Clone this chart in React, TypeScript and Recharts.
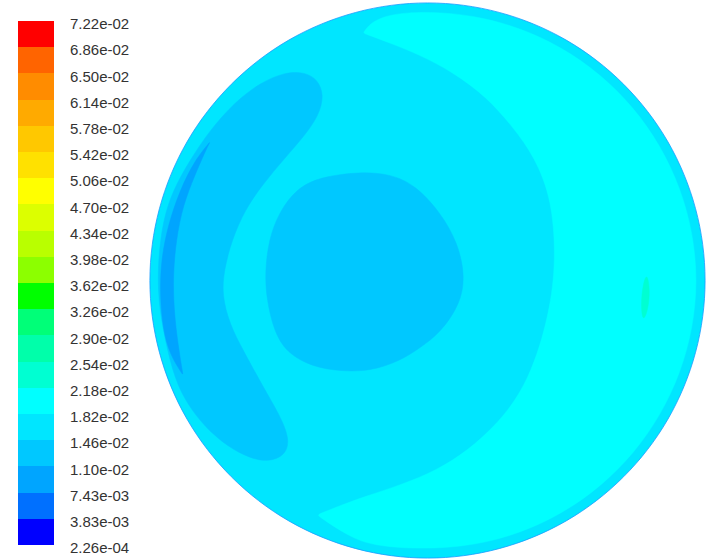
import React from "react"
import { ScatterChart, Scatter, XAxis, YAxis } from "recharts"

// contour levels, top of the colour bar first
const levels = [
  "7.22e-02", "6.86e-02", "6.50e-02", "6.14e-02", "5.78e-02", "5.42e-02", "5.06e-02",
  "4.70e-02", "4.34e-02", "3.98e-02", "3.62e-02", "3.26e-02", "2.90e-02", "2.54e-02",
  "2.18e-02", "1.82e-02", "1.46e-02", "1.10e-02", "7.43e-03", "3.83e-03", "2.26e-04",
]

const bandColors = [
  "#ff0000", "#ff6400", "#ff8c00", "#ffaa00", "#ffc800", "#ffe100", "#ffff00",
  "#dcff00", "#b9ff00", "#8cff00", "#00ff00", "#00ff78", "#00ffaa", "#00ffd2",
  "#00ffff", "#00e6ff", "#00c8ff", "#00a5ff", "#0070ff", "#0000ff",
]

// section outlines in units of the pipe radius (centre = 0,0), control points of closed splines
const wall = [
  [1.047, 0], [0.907, 0.523], [0.523, 0.907], [0, 1.047], [-0.523, 0.907], [-0.907, 0.523],
  [-1.047, 0], [-0.907, -0.523], [-0.523, -0.907], [0, -1.047], [0.523, -0.907], [0.907, -0.523],
]

const crescent = [
  [-0.232, 0.892], [-0.232, 0.892], [-0.171, 0.97], [0.171, 0.97], [0.493, 0.853],
  [0.755, 0.633], [0.926, 0.337], [0.988, 0], [0.926, -0.337], [0.755, -0.633],
  [0.493, -0.853], [0.171, -0.97], [-0.171, -0.965], [-0.281, -0.925],
  [-0.398, -0.845], [-0.398, -0.845], [-0.243, -0.782], [0.045, -0.694], [0.25, -0.528],
  [0.369, -0.359], [0.441, -0.117], [0.463, 0.074], [0.449, 0.29], [0.387, 0.445],
  [0.308, 0.553], [0.214, 0.661], [0.092, 0.751], [-0.027, 0.813], [-0.135, 0.856],
]

const leftLobe = [
  [-0.91, -0.359], [-0.946, -0.214], [-0.971, -0.07], [-0.971, 0.074], [-0.953, 0.218],
  [-0.917, 0.326], [-0.856, 0.434], [-0.784, 0.542], [-0.694, 0.643], [-0.604, 0.712],
  [-0.514, 0.751], [-0.441, 0.751], [-0.395, 0.723], [-0.373, 0.668], [-0.391, 0.596],
  [-0.441, 0.524], [-0.514, 0.441], [-0.596, 0.344], [-0.658, 0.254], [-0.705, 0.146],
  [-0.733, 0.038], [-0.741, -0.052], [-0.712, -0.16], [-0.665, -0.25], [-0.596, -0.377],
  [-0.532, -0.485], [-0.495, -0.575], [-0.514, -0.632], [-0.575, -0.654], [-0.64, -0.64],
  [-0.719, -0.6], [-0.802, -0.528], [-0.863, -0.449],
]

const wallSliver = [
  [-0.784, 0.499], [-0.784, 0.499], [-0.838, 0.434], [-0.892, 0.326], [-0.935, 0.2],
  [-0.96, 0.074], [-0.964, -0.052], [-0.953, -0.178], [-0.928, -0.268],
  [-0.881, -0.341], [-0.881, -0.341], [-0.899, -0.232], [-0.914, -0.106], [-0.917, 0.02],
  [-0.906, 0.146], [-0.881, 0.272], [-0.838, 0.38], [-0.802, 0.463],
]

const core = [
  [-0.586, 0.027], [-0.572, 0.148], [-0.535, 0.246], [-0.473, 0.33], [-0.389, 0.373],
  [-0.243, 0.392], [-0.135, 0.384], [-0.045, 0.345], [0.047, 0.245], [0.109, 0.136],
  [0.135, 0.02], [0.12, -0.082], [0.047, -0.188], [-0.027, -0.243], [-0.099, -0.29],
  [-0.207, -0.327], [-0.315, -0.327], [-0.415, -0.311], [-0.509, -0.26], [-0.554, -0.18],
  [-0.579, -0.07],
]

const spot = [
  [0.791, 0.031], [0.802, -0.034], [0.795, -0.106], [0.776, -0.153], [0.769, -0.088], [0.776, -0.016],
]

const toPoints = (a: number[][]) => a.map(([x, y]) => ({ x, y }))

const layers = [
  { name: "wall", data: wall, color: bandColors[15], edge: "#1a9cff" },
  { name: "crescent", data: crescent, color: bandColors[14] },
  { name: "leftLobe", data: leftLobe, color: bandColors[16] },
  { name: "wallSliver", data: wallSliver, color: bandColors[17] },
  { name: "core", data: core, color: bandColors[16] },
  { name: "spot", data: spot, color: bandColors[13] },
]

const noMarker = () => <g />

function ColorBar() {
  const top = 21
  const step = 26.2
  return (
    <div style={{ position: "absolute", left: 0, top: 0 }}>
      {bandColors.map((c, i) => (
        <div
          key={c}
          style={{
            position: "absolute", left: 18, top: top + i * step, width: 36, height: step + 0.5,
            background: c,
          }}
        />
      ))}
      {levels.map((t, i) => (
        <div
          key={t}
          style={{
            position: "absolute", left: 70, top: top + i * step + 2.5 - 7.3,
            font: "15px 'Liberation Sans', Arial, sans-serif", lineHeight: "15px",
            color: "#333", whiteSpace: "nowrap",
          }}
        >
          {t}
        </div>
      ))}
    </div>
  )
}

export default function App() {
  return (
    <div style={{ position: "absolute", left: 0, top: 0, width: 706, height: 560, overflow: "hidden", background: "#fff" }}>
      <div style={{ position: "absolute", left: 0, top: -12 }}>
        <ScatterChart width={720} height={584} margin={{ top: 0, right: 0, bottom: 0, left: 0 }}>
          <XAxis type="number" dataKey="x" domain={[-1.5405, 1.0541]} hide />
          <YAxis type="number" dataKey="y" domain={[-1.0505, 1.0541]} hide />
          {layers.map((l) => (
            <Scatter
              key={l.name}
              data={toPoints(l.data)}
              line={{ fill: l.color, stroke: l.edge ?? l.color, strokeWidth: l.edge ? 0.8 : 0.5 }}
              lineType="joint"
              lineJointType="basisClosed"
              shape={noMarker}
              isAnimationActive={false}
            />
          ))}
        </ScatterChart>
      </div>
      <ColorBar />
    </div>
  )
}
